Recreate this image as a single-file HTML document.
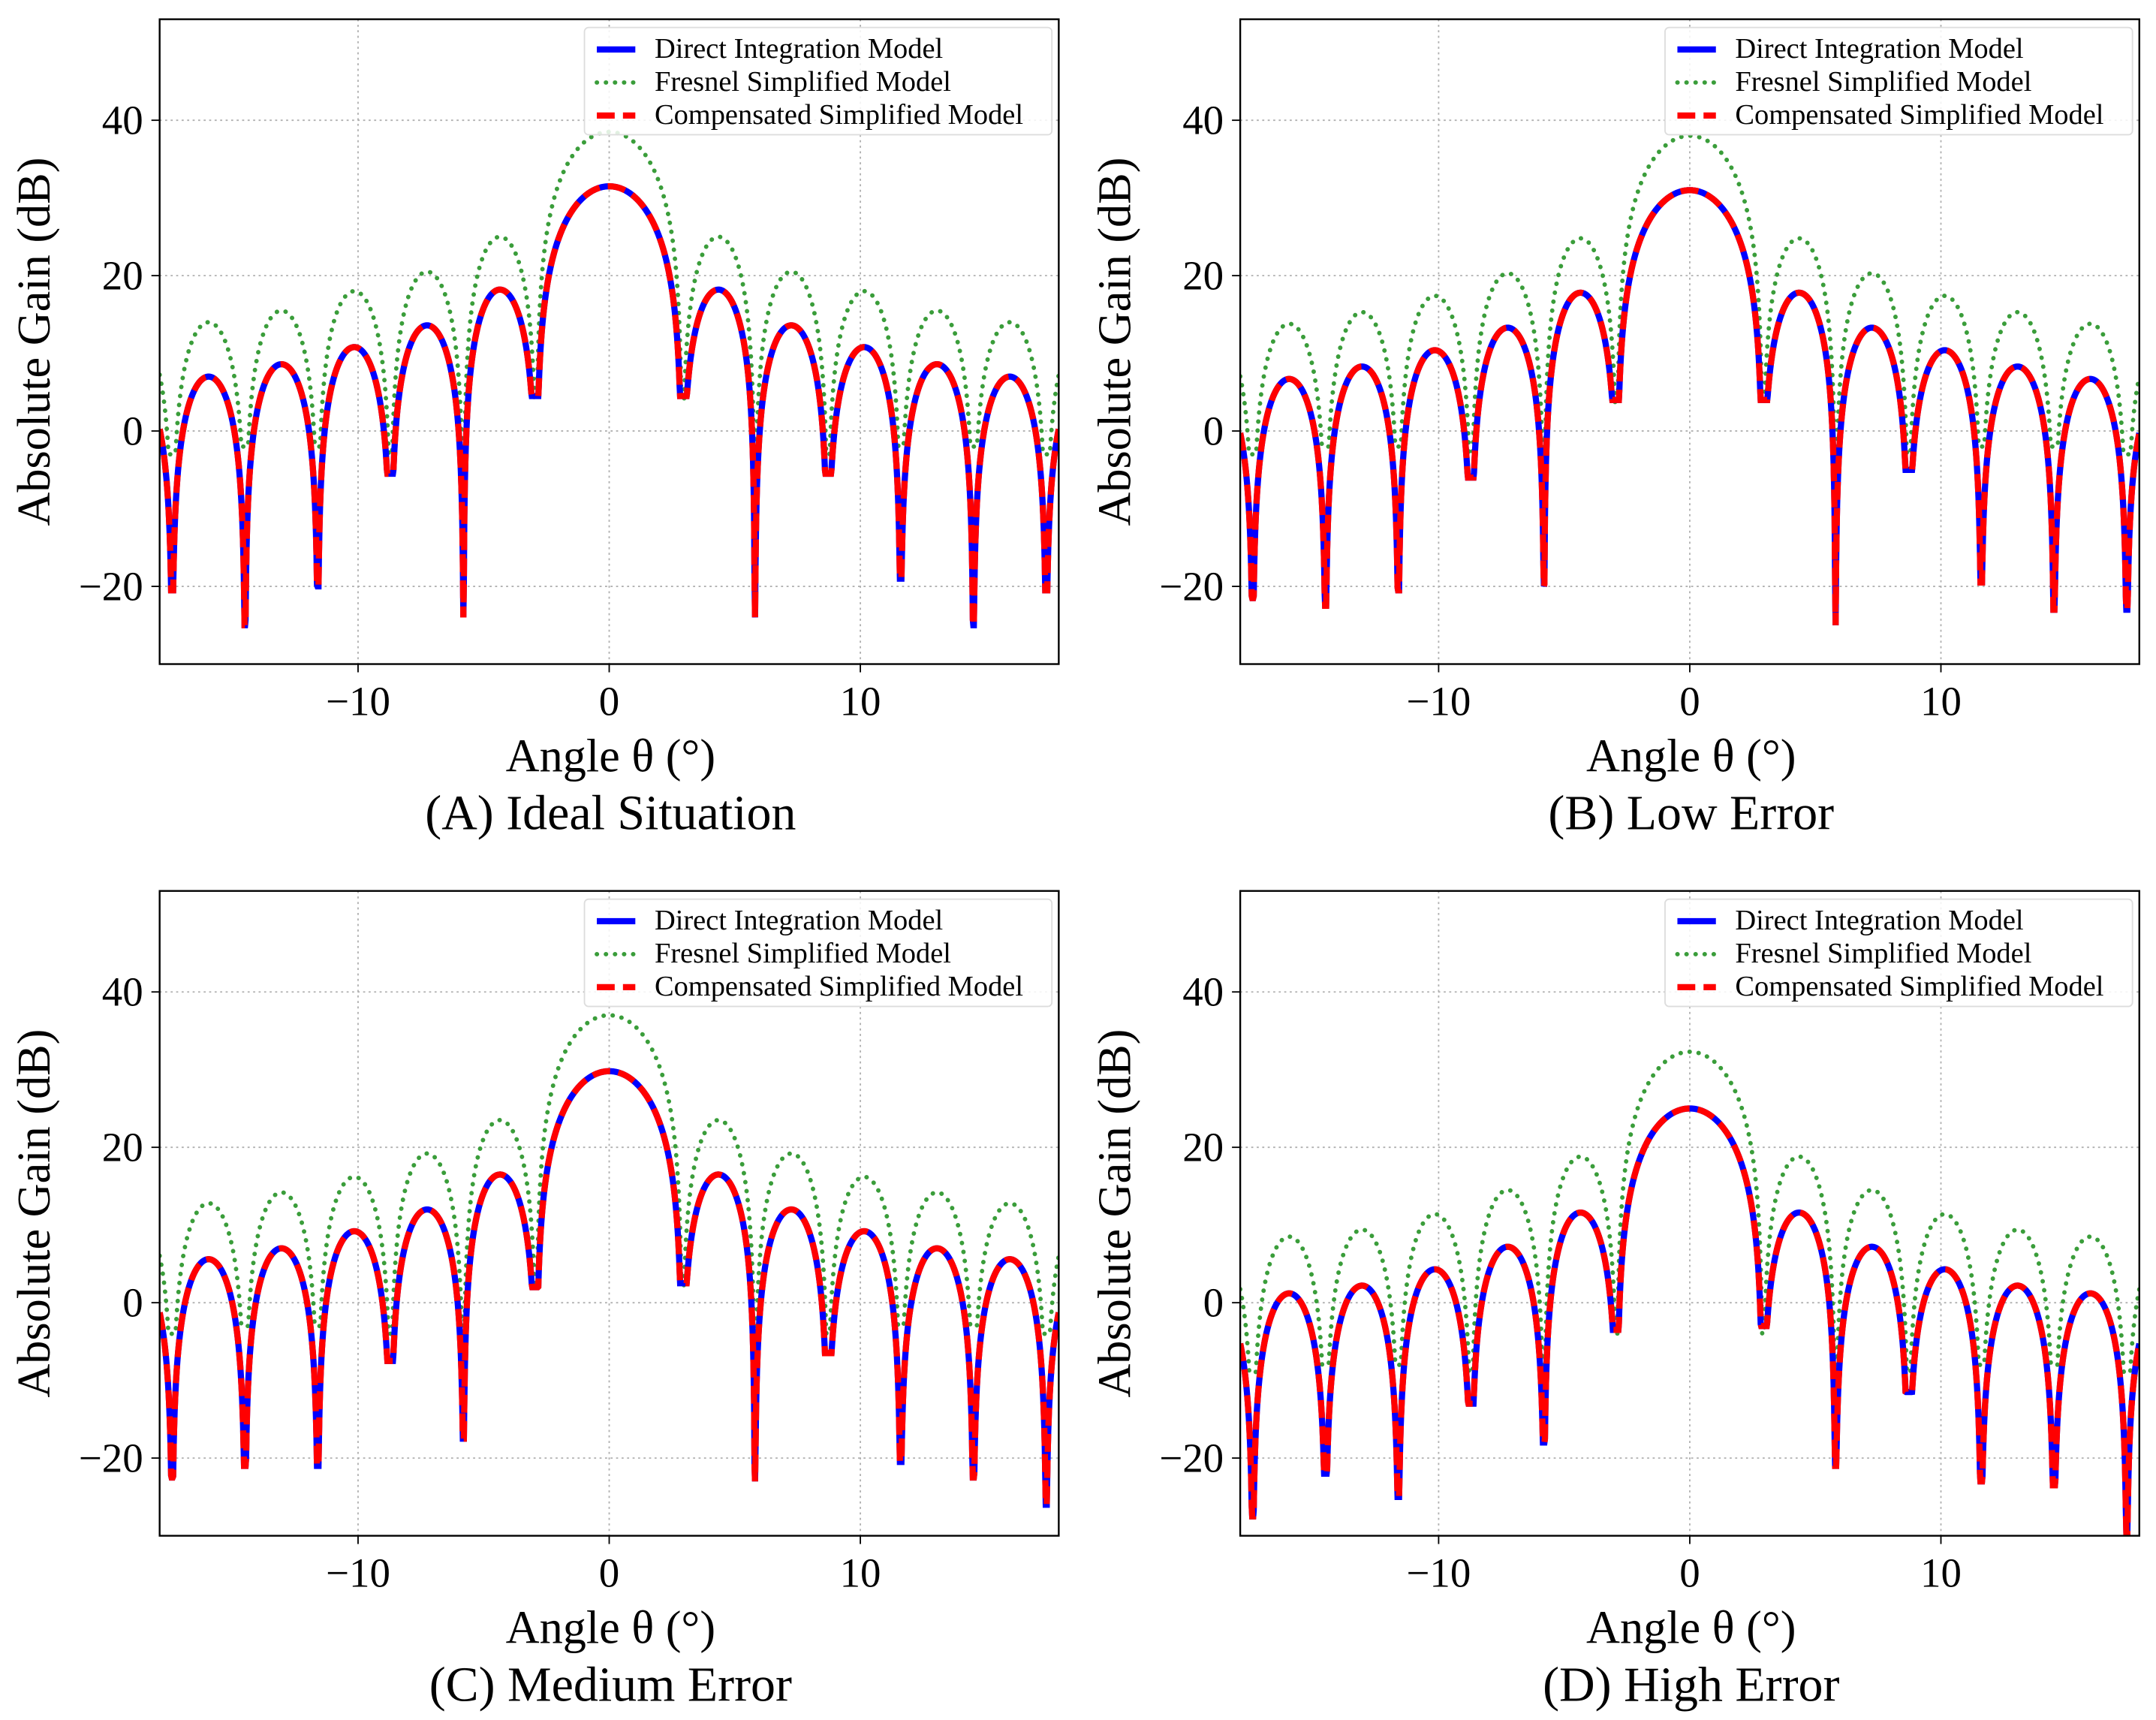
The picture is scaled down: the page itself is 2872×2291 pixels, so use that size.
<!DOCTYPE html>
<html><head><meta charset="utf-8"><style>html,body{margin:0;padding:0;background:#fff}svg{display:block}</style></head>
<body>
<svg id="fig" width="2872" height="2291" viewBox="0 0 1568 1251" xmlns="http://www.w3.org/2000/svg" font-family="'Liberation Serif', serif"></svg>
<script>
// Shared lobe geometry (degrees)
const nullAngles = [-17.4,-14.5,-11.6,-8.7,-5.8,-2.9,2.9,5.8,8.7,11.6,14.5,17.4];
const xTicks = [-10,0,10];
const yTicks = [-20,0,20,40];
const panelTitles = ["(A) Ideal Situation","(B) Low Error","(C) Medium Error","(D) High Error"];
// Lobe peaks from outer-left (off-chart) to outer-right: 13 lobes
const directPeaksA = [6,7.0,8.6,10.8,13.6,18.2,31.5,18.2,13.6,10.8,8.6,7.0,6];
const directNullsA = [-20.5,-25,-20,-5.5,-24,4.5,4.5,-24,-5.5,-19,-25,-20.5];
const fresnelPeaksA = [13,14,15.5,18,20.5,25,38.5,25,20.5,18,15.5,14,13];
const fresnelNullsA = [-3,-2,-2,-3,-2,4,4,-2,-3,-2,-2,-3];
const directPeaksB = [5.5,6.7,8.3,10.4,13.3,17.8,31,17.8,13.3,10.4,8.3,6.7,5.5];
const directNullsB = [-21.5,-22.5,-20.5,-6,-20,4,4,-25,-5,-19.5,-23,-23];
const fresnelPeaksB = [12.8,13.8,15.3,17.4,20.3,24.8,38,24.8,20.3,17.4,15.3,13.8,12.8];
const fresnelNullsB = [-3,-2,-2,-3,-2,3.5,3.5,-2,-3,-2,-2,-3];
const directPeaksC = [4.5,5.6,7,9.2,12,16.5,29.8,16.5,12,9.2,7,5.6,4.5];
const directNullsC = [-22.5,-21,-21,-7.5,-17.5,2,2.5,-23,-6.5,-20.5,-22.5,-26];
const fresnelPeaksC = [11.8,12.8,14.2,16.2,19.2,23.5,37,23.5,19.2,16.2,14.2,12.8,11.8];
const fresnelNullsC = [-4,-3,-3,-4,-3,2,2,-3,-4,-3,-3,-4];
const directPeaksD = [0.5,1.2,2.2,4.3,7.2,11.6,25,11.6,7.2,4.3,2.2,1.2,0.5];
const directNullsD = [-27.5,-22,-25,-13,-18,-3.5,-3,-21,-11.5,-23,-23.5,-29.5];
const fresnelPeaksD = [7.5,8.5,9.4,11.4,14.5,18.8,32.3,18.8,14.5,11.4,9.4,8.5,7.5];
const fresnelNullsD = [-9,-8,-8,-9,-8,-4,-4,-8,-9,-8,-8,-9];

const panels = [
 {ox:116,oy:14,d:[directPeaksA,directNullsA],f:[fresnelPeaksA,fresnelNullsA]},
 {ox:902,oy:14,d:[directPeaksB,directNullsB],f:[fresnelPeaksB,fresnelNullsB]},
 {ox:116,oy:648,d:[directPeaksC,directNullsC],f:[fresnelPeaksC,fresnelNullsC]},
 {ox:902,oy:648,d:[directPeaksD,directNullsD],f:[fresnelPeaksD,fresnelNullsD]}
];
const W=654,H=469,XMIN=-17.9,XMAX=17.9,YMIN=-30,YMAX=53;
const NS="http://www.w3.org/2000/svg";
const svg=document.getElementById('fig');
function mk(tag,attrs,parent){const e=document.createElementNS(NS,tag);for(const k in attrs)e.setAttribute(k,attrs[k]);(parent||svg).appendChild(e);return e;}
function curve(peaks,depths,x){
  const ang=nullAngles.slice().sort((a,b)=>a-b);
  const edges=[ang[0]-2.9].concat(ang,[ang[ang.length-1]+2.9]);
  let i=0;while(i<edges.length-2&&x>edges[i+1])i++;
  const a=edges[i],b=edges[i+1];const t=Math.min(Math.max((x-a)/(b-a),0),1);
  const pk=peaks[Math.min(i,peaks.length-1)];
  let v=pk+20*Math.log10(Math.max(Math.sin(Math.PI*t),1e-4));
  const fl=t<0.5?(i>0?depths[i-1]:-30):(i<depths.length?depths[i]:-30);
  return Math.max(v,fl);
}
panels.forEach((p,pi)=>{
  const g=mk('g',{transform:`translate(${p.ox},${p.oy})`});
  
  
  const sx=v=>(v-XMIN)/(XMAX-XMIN)*W, sy=v=>(YMAX-v)/(YMAX-YMIN)*H;
  const clipId='clip'+pi;
  const cp=mk('clipPath',{id:clipId},g);mk('rect',{x:0,y:0,width:W,height:H},cp);
  xTicks.forEach(t=>{
    const l=mk('line',{x1:sx(t),x2:sx(t),y1:0,y2:H,stroke:'#b0b0b0','stroke-width':1,'stroke-dasharray':'1.5,2.5'},g);
    
    
    mk('line',{x1:sx(t),x2:sx(t),y1:H,y2:H+6,stroke:'#000','stroke-width':1},g);
    const tx=mk('text',{x:sx(t),y:H+37,'text-anchor':'middle','font-size':30},g);
    tx.textContent=(t<0?'\u2212'+(-t):t);
    
    
  });
  yTicks.forEach(t=>{
    const l=mk('line',{x1:0,x2:W,y1:sy(t),y2:sy(t),stroke:'#b0b0b0','stroke-width':1,'stroke-dasharray':'1.5,2.5'},g);
    
    
    mk('line',{x1:-6,x2:0,y1:sy(t),y2:sy(t),stroke:'#000','stroke-width':1},g);
    const tx=mk('text',{x:-12,y:sy(t)+10,'text-anchor':'end','font-size':30},g);
    tx.textContent=(t<0?'\u2212'+(-t):t);
    
    
  });
  function path(pk,nl){let d='';for(let k=0;k<=1800;k++){const xv=XMIN+(XMAX-XMIN)*k/1800;d+=(k?'L':'M')+sx(xv).toFixed(2)+','+sy(curve(pk,nl,xv)).toFixed(2);}return d;}
  const cg=mk('g',{'clip-path':`url(#${clipId})`},g);
  const fp=mk('path',{d:path(p.f[0],p.f[1]),fill:'none',stroke:'#3a9d3a','stroke-width':3.2,'stroke-dasharray':'0.1,6.5','stroke-linecap':'round'},cg);
  
  
  const bp=mk('path',{d:path(p.d[0],p.d[1]),fill:'none',stroke:'#0000ff','stroke-width':4.5},cg);
  
  
  const rp=mk('path',{d:path(p.d[0],p.d[1]),fill:'none',stroke:'#ff0000','stroke-width':4.5,'stroke-dasharray':'13,6'},cg);
  
  
  mk('rect',{x:0,y:0,width:W,height:H,fill:'none',stroke:'#000','stroke-width':1.3},g);
  const xl=mk('text',{x:W/2+1,y:H+78,'text-anchor':'middle','font-size':34},g);xl.textContent='Angle \u03b8 (\u00b0)';
  
  
  const yl=mk('text',{x:0,y:0,'text-anchor':'middle','font-size':34,transform:`translate(-80,${H/2}) rotate(-90)`},g);yl.textContent='Absolute Gain (dB)';
  
  
  const ct=mk('text',{x:W/2+1,y:H+120,'text-anchor':'middle','font-size':36},g);ct.textContent=panelTitles[pi];
  
  
  const lg=mk('g',{transform:'translate(309,6)'},g);
  
  
  mk('rect',{x:0,y:0,width:340,height:78,fill:'#fff','fill-opacity':0.85,stroke:'#ddd',rx:3},lg);
  const ents=[['Direct Integration Model','#0000ff','none',4.5,'butt'],['Fresnel Simplified Model','#3a9d3a','0.1,6.5',3.2,'round'],['Compensated Simplified Model','#ff0000','13,6',4.5,'butt']];
  ents.forEach((e,i)=>{
    const y=16+i*24;
    mk('line',{x1:9,x2:37,y1:y,y2:y,stroke:e[1],'stroke-width':e[3],'stroke-dasharray':e[2],'stroke-linecap':e[4]},lg);
    const t=mk('text',{x:51,y:y+6,'font-size':21},lg);t.textContent=e[0];
    
    
  });
});
</script>
</body></html>
